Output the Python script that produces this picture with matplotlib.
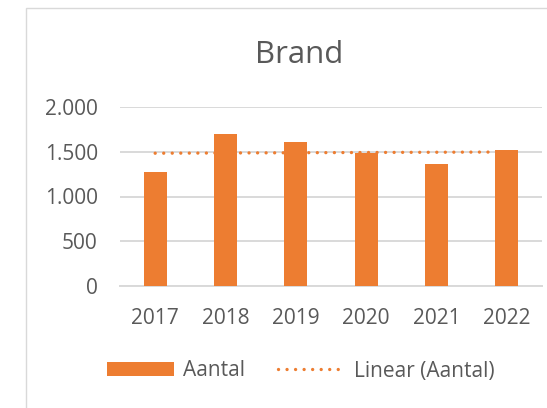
import numpy as np
import matplotlib
matplotlib.use("Agg")
import matplotlib.pyplot as plt
from matplotlib.patches import Rectangle
from matplotlib.ticker import FuncFormatter

years = ['2017', '2018', '2019', '2020', '2021', '2022']
aantal = [1272, 1699, 1605, 1486, 1364, 1516]
y_ticks = [0, 500, 1000, 1500, 2000]

ORANGE = '#ED7D31'
GRID = '#D9D9D9'
TEXT = '#595959'

plt.rcParams['font.family'] = ['Open Sans', 'DejaVu Sans']

fig = plt.figure(figsize=(5.47, 4.08), dpi=100)
W, H = 547, 408

# chart area border (cropped on right / bottom like the screenshot)
fig.patches.append(Rectangle((26 / W, -0.1), 1.2, 1 - 8 / H + 0.1,
                             transform=fig.transFigure, fill=False,
                             edgecolor=GRID, linewidth=1.0))

ax = fig.add_axes([120 / W, 1 - 286 / H, 422 / W, 179 / H])

x = np.arange(len(years))
bars = ax.bar(x, aantal, width=0.33, color=ORANGE, zorder=3, label='Aantal')

# linear trendline over the same points
coef = np.polyfit(x, aantal, 1)
trend, = ax.plot(x, np.polyval(coef, x), color=ORANGE, linewidth=2.4,
                 linestyle=(0, (0.01, 2.55)), dash_capstyle='round',
                 zorder=2, label='Linear (Aantal)')

ax.set_xlim(-0.5, len(years) - 0.5)
ax.set_ylim(0, 2000)
ax.set_yticks(y_ticks)
ax.yaxis.set_major_formatter(FuncFormatter(lambda v, p: f'{int(v):,}'.replace(',', '.')))
ax.set_xticks(x)
ax.set_xticklabels(years)

ax.grid(axis='y', color=GRID, linewidth=1.4, zorder=0)
ax.set_axisbelow(True)
for s in ['top', 'right', 'left']:
    ax.spines[s].set_visible(False)
ax.spines['bottom'].set_color(GRID)
ax.spines['bottom'].set_linewidth(1.4)
ax.tick_params(axis='both', length=0, labelsize=15, labelcolor=TEXT)
ax.tick_params(axis='y', pad=16)
ax.tick_params(axis='x', pad=16)

fig.text(299 / W, 1 - 63 / H, 'Brand', ha='center', va='baseline',
         fontsize=22.5, color=TEXT)

fig.legend(handles=[bars, trend], loc='center', bbox_to_anchor=(301 / W, 1 - 371 / H),
           ncol=2, frameon=False, fontsize=15, labelcolor=TEXT,
           handlelength=3.2, handleheight=0.62, handletextpad=0.43,
           columnspacing=1.6)

fig.savefig('out.png', dpi=100)
